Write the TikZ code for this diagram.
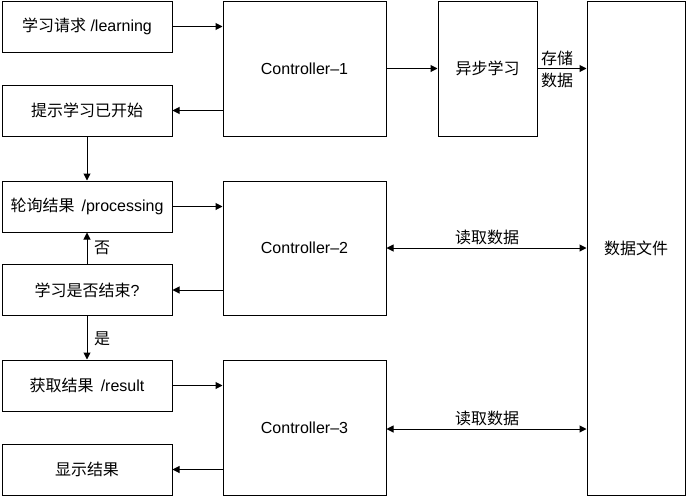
\documentclass[tikz,border=0pt]{standalone}
\usepackage{fontspec}
\setmainfont{Liberation Sans}
\newfontfamily\cjk{Noto Sans CJK SC}
\usetikzlibrary{arrows.meta,calc}
\begin{document}
\begin{tikzpicture}[x=1pt,y=-1pt,
  every node/.style={font=\fontsize{16}{20}\selectfont},
  lbox/.style={draw,line width=1pt,minimum width=170pt,minimum height=51pt,inner sep=0pt},
  cbox/.style={draw,line width=1pt,minimum width=163pt,minimum height=135pt,inner sep=0pt},
  arr/.style={line width=1pt,-{Triangle[width=7pt,length=7pt]}},
  darr/.style={line width=1pt,{Triangle[width=7pt,length=7pt]}-{Triangle[width=7pt,length=7pt]}},
  lab/.style={inner sep=1pt}]
\useasboundingbox (0,0) rectangle (686,496);
% left column
\node[lbox] (b1) at (87,26.5) {{\cjk 学习请求} /learning};
\node[lbox] (b2) at (87,110.5) {\cjk 提示学习已开始};
\node[lbox] (b3) at (87,206.5) {{\cjk 轮询结果} \,/processing};
\node[lbox] (b4) at (87,290) {{\cjk 学习是否结束}?};
\node[lbox] (b5) at (87,385.5) {{\cjk 获取结果} \,/result};
\node[lbox] (b6) at (87,469.5) {\cjk 显示结果};
% controllers
\node[cbox] (c1) at (304.5,68.5) {Controller–1};
\node[cbox,minimum height=134pt] (c2) at (304.5,248) {Controller–2};
\node[cbox] (c3) at (304.5,427.5) {Controller–3};
% async and file
\node[draw,line width=1pt,minimum width=99pt,minimum height=135pt,inner sep=0pt] (as) at (487.5,68.5) {\cjk 异步学习};
\node[draw,line width=1pt,minimum width=98pt,minimum height=494pt,inner sep=0pt] (df) at (636,248) {\cjk 数据文件};
% connectors
\draw[arr] (b1.east) -- (b1.east -| c1.west);
\draw[arr] (c1.west |- b2.east) -- (b2.east);
\draw[arr] (c1.east) -- (as.west);
\draw[arr] (as.east) -- (as.east -| df.west);
\node[lab,anchor=west,align=left,font=\cjk\fontsize{16}{22}\selectfont] (lsave) at (540,69) {存储\\数据};
\draw[arr] (b2.south) -- (b3.north);
\draw[arr] (b3.east) -- (b3.east -| c2.west);
\draw[arr] (b4.north) -- (b3.south);
\node[lab,font=\cjk\fontsize{16}{20}\selectfont] (lno) at (102,248) {否};
\draw[arr] (c2.west |- b4.east) -- (b4.east);
\draw[arr] (b4.south) -- (b5.north);
\node[lab,font=\cjk\fontsize{16}{20}\selectfont] (lyes) at (102,339) {是};
\draw[arr] (b5.east) -- (b5.east -| c3.west);
\draw[arr] (c3.west |- b6.east) -- (b6.east);
\draw[darr] (c2.east) -- (c2.east -| df.west);
\node[lab,font=\cjk\fontsize{16}{20}\selectfont] (lr1) at (487,237) {读取数据};
\coordinate (c3r) at ($(c3.east)+(0,1.5)$);
\draw[darr] (c3r) -- (c3r -| df.west);
\node[lab,font=\cjk\fontsize{16}{20}\selectfont] (lr2) at (487,418) {读取数据};
\end{tikzpicture}
\end{document}
